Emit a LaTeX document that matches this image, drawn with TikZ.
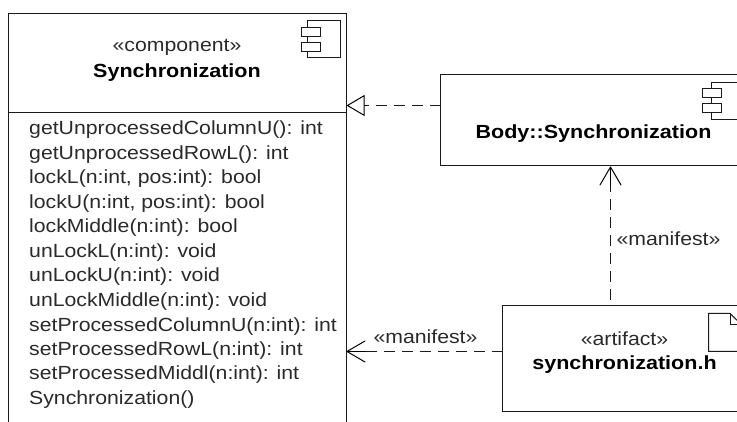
\documentclass[tikz,border=0pt]{standalone}
\usepackage{fontspec}
\setmainfont{Liberation Sans}
\newfontfamily\wideplain{Liberation Sans}[FakeStretch=1.118]
\newfontfamily\widebold{Liberation Sans Bold}[FakeStretch=1.134]
\usetikzlibrary{arrows.meta}
\definecolor{ink}{HTML}{1A1A1A}
\definecolor{txt}{HTML}{2A2A2A}
\tikzset{
  x=1pt,y=-1pt,
  box/.style={draw=ink,line width=1.2pt,fill=white,rectangle,inner sep=0pt,outer sep=0pt,anchor=north west},
  icon/.style={draw=ink,line width=1pt,fill=white,rectangle,inner sep=0pt,outer sep=0pt,anchor=north west},
  ster/.style={text=txt,font=\fontsize{19}{21}\wideplain,inner sep=0pt,anchor=base},
  title/.style={text=black,font=\fontsize{19}{21}\widebold,inner sep=0pt,anchor=base},
  oper/.style={text=txt,font=\fontsize{19}{21}\wideplain,inner sep=0pt,anchor=base west},
  dep/.style={draw=ink,line width=1.15pt,dash pattern=on 11pt off 7pt},
  opentip/.style={-{Straight Barb[length=18pt,width=21pt,line width=1pt,round]}},
  triangletip/.style={-{Triangle[open,length=18pt,width=21pt,line width=1pt,fill=white]}},
}
\begin{document}
\begin{tikzpicture}
\useasboundingbox (0,0) rectangle (737,422);
\clip (0,0) rectangle (737,422);
\fill[white] (0,0) rectangle (737,422);
% Synchronization component
\node[box,minimum width=338pt,minimum height=430pt] (comp) at (8.5,13.5) {};
\coordinate (divL) at (8.5,112.5);
\coordinate (divR) at (346.5,112.5);
\draw[ink,line width=1.1pt] (divL) -- (divR);
\node[ster] (compster) at (177,52) {«component»};
\node[title] (compname) at (177,78) {Synchronization};
\node[icon,minimum width=33pt,minimum height=37pt] (ci) at (307.5,20.5) {};
\node[icon,minimum width=19pt,minimum height=9pt] (ci1) at (301.5,27.5) {};
\node[icon,minimum width=19pt,minimum height=9pt] (ci2) at (301.5,42.5) {};
% operations
\node[oper] (o1) at (29,135) {getUnprocessedColumnU(): int};
\node[oper] (o2) at (29,159.5) {getUnprocessedRowL(): int};
\node[oper] (o3) at (29,184) {lockL(n:int, pos:int): bool};
\node[oper] (o4) at (29,208.5) {lockU(n:int, pos:int): bool};
\node[oper] (o5) at (29,233) {lockMiddle(n:int): bool};
\node[oper] (o6) at (29,257.5) {unLockL(n:int): void};
\node[oper] (o7) at (29,282) {unLockU(n:int): void};
\node[oper] (o8) at (29,306.5) {unLockMiddle(n:int): void};
\node[oper] (o9) at (29,331) {setProcessedColumnU(n:int): int};
\node[oper] (o10) at (29,355.5) {setProcessedRowL(n:int): int};
\node[oper] (o11) at (29,380) {setProcessedMiddl(n:int): int};
\node[oper] (o12) at (29,404.5) {Synchronization()};
% Body::Synchronization
\node[box,minimum width=320pt,minimum height=91pt] (body) at (440.5,74.5) {};
\node[title] (bodyname) at (593.5,139) {Body::Synchronization};
\node[icon,minimum width=33pt,minimum height=37pt] (bi) at (711.5,82.5) {};
\node[icon,minimum width=19pt,minimum height=9pt] (bi1) at (702.5,88.5) {};
\node[icon,minimum width=19pt,minimum height=9pt] (bi2) at (702.5,103.5) {};
% artifact
\node[box,minimum width=260pt,minimum height=106pt] (art) at (502.5,305.5) {};
\node[ster] (artster) at (624.5,345) {«artifact»};
\node[title] (artname) at (624.5,370) {synchronization.h};
\coordinate (fa) at (708.5,313.5);
\draw[ink,line width=1pt,fill=white] (fa) -- (730,313.5) -- (745,328) -- (745,351.5) -- (708.5,351.5) -- cycle;
\draw[ink,line width=1pt] (730.5,313.5) -- (730.5,324.5) -- (745,324.5);
% connectors
\coordinate (t1) at (body.west |- 0,105.5);
\coordinate (h1) at (comp.east |- 0,105.5);
\coordinate (t2) at (610.5,300);
\coordinate (h2) at (610.5,166.5);
\coordinate (t3) at (art.west |- 0,351.5);
\coordinate (h3) at (comp.east |- 0,351.5);
\draw[dep] (t1) -- (366,105.5);
\draw[triangletip,line width=1pt] (366,105.5) -- (h1);
\draw[dep] (t2) -- (610.5,186);
\draw[opentip,line width=1pt] (610.5,186) -- (h2);
\draw[dep] (t3) -- (366,351.5);
\draw[opentip,line width=1pt] (366,351.5) -- (h3);
\node[ster] (m1) at (668.5,246) {«manifest»};
\node[ster] (m2) at (425.5,344) {«manifest»};
\end{tikzpicture}
\end{document}
